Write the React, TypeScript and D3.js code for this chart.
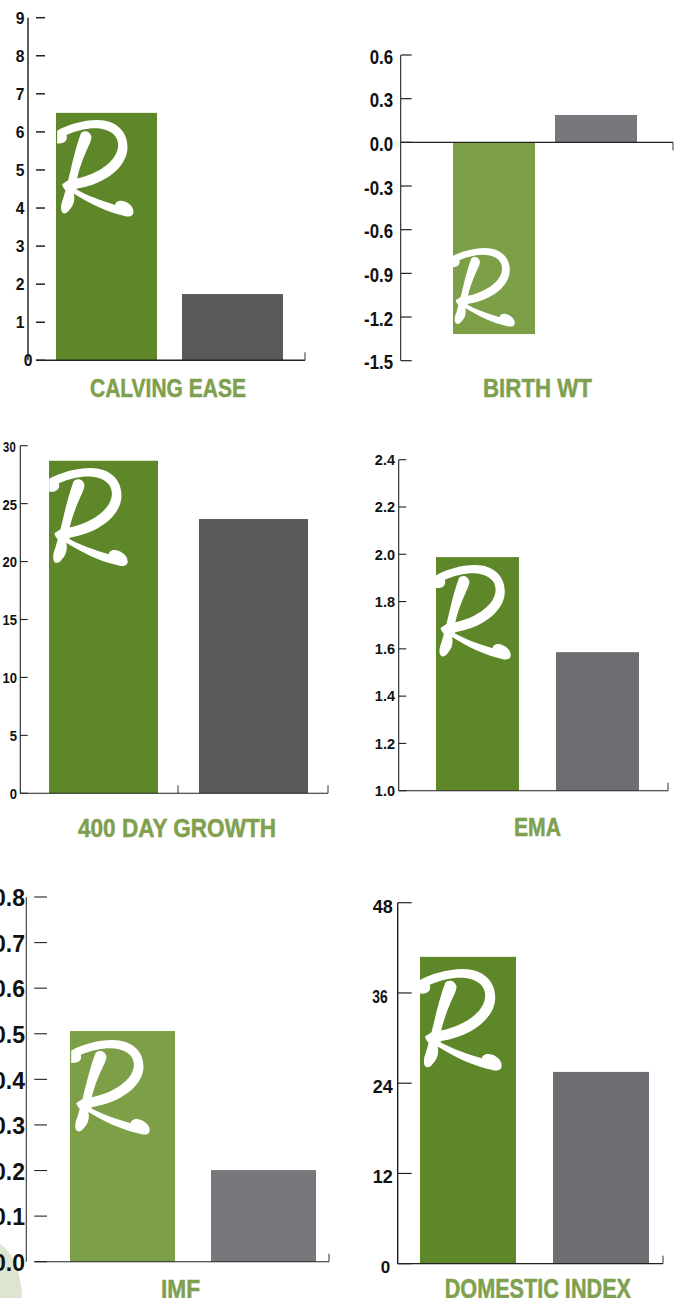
import React from "react";
import * as d3 from "d3";

// ---------- data ----------
const barCategories = ["Sire group", "Breed average"];

const calvingEaseValues = [6.5, 1.74];
const birthWtValues = [-1.317, 0.188];
const growthValues = [28.7, 23.67];
const emaValues = [1.988, 1.586];
const imfValues = [0.506, 0.201];
const domesticValues = [40.8, 25.5];

const calvingEaseTicks = [0, 1, 2, 3, 4, 5, 6, 7, 8, 9];
const birthWtTicks = [-1.5, -1.2, -0.9, -0.6, -0.3, 0, 0.3, 0.6];
const growthTicks = [0, 5, 10, 15, 20, 25, 30];
const emaTicks = [1, 1.2, 1.4, 1.6, 1.8, 2, 2.2, 2.4];
const imfTicks = [0, 0.1, 0.2, 0.3, 0.4, 0.5, 0.6, 0.7, 0.8];
const domesticTicks = [0, 12, 24, 36, 48];

// ---------- styling ----------
const SANS = "'Liberation Sans', Arial, sans-serif";
const GREEN = "#5e8729";
const GREEN_LIGHT = "#7c9f48";
const GREY_DARK = "#58595b";
const GREY_MID = "#6d6e71";
const GREY_LIGHT = "#77787b";
const LABEL = "#7fa04e";

// R brand mark, traced outline (own coordinate system, 232 x 290)
const R_MARK =
  "M2 32 C30 15 80 0 122 0 C180 0 215 35 213 85 C210 140 150 190 62 205 L60 208 C90 225 130 240 176 254 " +
  "C176 243 192 238 205 244 C222 250 232 264 231 276 C230 290 215 290 205 287 C150 275 100 250 52 220 " +
  "C56 240 52 255 38 270 C30 282 18 282 15 272 C12 262 14 250 20 235 L27 210 C22 205 18 198 17 192 " +
  "L35 180 C45 140 55 90 73 40 C80 30 100 30 105 50 C105 70 80 100 62 175 C130 160 185 120 185 75 " +
  "C185 40 150 25 115 25 C90 25 60 32 30 45 C35 60 25 72 2 70 Z";

type TickStyle = { size: number; sx?: number; dx?: number };

type Panel = {
  title: string;
  values: number[];
  ticks: number[];
  domain: [number, number];
  yRange: [number, number];
  tickFormat: string;
  barSpan: [number, number];
  barGap: number;
  colors: [string, string];
  axisX: number;
  tickX: [number, number];
  tickWidth: number;
  baseX: [number, number];
  baseTicks: number[];
  baseTickDir: number;
  baseValue: number;
  labelRight: number;
  labelDy: number;
  tickStyle: (t: number) => TickStyle;
  axisColor: string;
  axisWidth: number;
  titleX: [number, number];
  titleY: number;
  titleSize: number;
  mark: [number, number, number, number];
};

const panels: Panel[] = [
  {
    title: "CALVING EASE",
    values: calvingEaseValues,
    ticks: calvingEaseTicks,
    domain: [0, 9],
    yRange: [360.3, 17.7],
    tickFormat: "d",
    barSpan: [56, 283],
    barGap: 25,
    colors: [GREEN, GREY_DARK],
    axisX: 28,
    tickX: [36, 45],
    tickWidth: 1.5,
    baseX: [36, 305],
    baseTicks: [305],
    baseTickDir: -1,
    baseValue: 0,
    labelRight: 24.5,
    labelDy: 0,
    tickStyle: (t) => ({ size: 16.5, sx: 0.95, dx: t === 0 ? 8 : 0 }),
    axisColor: "#444",
    axisWidth: 1.7,
    titleX: [90, 246],
    titleY: 396.5,
    titleSize: 25,
    mark: [56.5, 120, 77.3, 97],
  },
  {
    title: "BIRTH WT",
    values: birthWtValues,
    ticks: birthWtTicks,
    domain: [-1.5, 0.6],
    yRange: [360.7, 55],
    tickFormat: ".1f",
    barSpan: [453, 637],
    barGap: 20,
    colors: [GREEN_LIGHT, GREY_LIGHT],
    axisX: 400.7,
    tickX: [401, 411.7],
    tickWidth: 1.2,
    baseX: [401, 673],
    baseTicks: [673],
    baseTickDir: 1,
    baseValue: 0,
    labelRight: 393,
    labelDy: 1,
    tickStyle: () => ({ size: 21, sx: 0.8 }),
    axisColor: "#222",
    axisWidth: 1.1,
    titleX: [483, 592],
    titleY: 397,
    titleSize: 25,
    mark: [451, 248, 64, 79],
  },
  {
    title: "400 DAY GROWTH",
    values: growthValues,
    ticks: growthTicks,
    domain: [0, 30],
    yRange: [793.3, 445.7],
    tickFormat: "d",
    barSpan: [49, 308],
    barGap: 41,
    colors: [GREEN, GREY_DARK],
    axisX: 20.3,
    tickX: [20.3, 27.7],
    tickWidth: 1.1,
    baseX: [20.3, 328],
    baseTicks: [178, 328],
    baseTickDir: -1,
    baseValue: 0,
    labelRight: 17,
    labelDy: 0.7,
    tickStyle: (t) => ({ size: 14.5, sx: t === 30 ? 0.78 : 0.9, dx: t === 30 ? -1.3 : 0 }),
    axisColor: "#222",
    axisWidth: 1.1,
    titleX: [78, 276],
    titleY: 837,
    titleSize: 25,
    mark: [48.5, 468, 79.5, 98.5],
  },
  {
    title: "EMA",
    values: emaValues,
    ticks: emaTicks,
    domain: [1, 2.4],
    yRange: [790.7, 459.7],
    tickFormat: ".1f",
    barSpan: [436, 639],
    barGap: 37,
    colors: [GREEN, GREY_MID],
    axisX: 398.7,
    tickX: [398.7, 406.3],
    tickWidth: 1.1,
    baseX: [398.7, 668],
    baseTicks: [668],
    baseTickDir: -1,
    baseValue: 1,
    labelRight: 395,
    labelDy: 0,
    tickStyle: () => ({ size: 14.5 }),
    axisColor: "#222",
    axisWidth: 1.1,
    titleX: [514, 561],
    titleY: 835.5,
    titleSize: 25,
    mark: [435, 565, 76, 95],
  },
  {
    title: "IMF",
    values: imfValues,
    ticks: imfTicks,
    domain: [0, 0.8],
    yRange: [1261.7, 897],
    tickFormat: ".1f",
    barSpan: [70, 316],
    barGap: 36,
    colors: [GREEN_LIGHT, GREY_LIGHT],
    axisX: 26.3,
    tickX: [34.3, 47],
    tickWidth: 1.1,
    baseX: [34.3, 329],
    baseTicks: [329],
    baseTickDir: -1,
    baseValue: 0,
    labelRight: 25,
    labelDy: 1,
    tickStyle: () => ({ size: 23 }),
    axisColor: "#333",
    axisWidth: 1.1,
    titleX: [161, 200],
    titleY: 1298,
    titleSize: 25,
    mark: [70.5, 1040, 79.5, 95],
  },
  {
    title: "DOMESTIC INDEX",
    values: domesticValues,
    ticks: domesticTicks,
    domain: [0, 48],
    yRange: [1263.7, 902.7],
    tickFormat: "d",
    barSpan: [420, 649],
    barGap: 37,
    colors: [GREEN, GREY_MID],
    axisX: 397.7,
    tickX: [397.7, 411.7],
    tickWidth: 1.2,
    baseX: [397.7, 663],
    baseTicks: [663],
    baseTickDir: -1,
    baseValue: 0,
    labelRight: 392.7,
    labelDy: 3.5,
    tickStyle: (t) =>
      t === 36
        ? { size: 18, sx: 0.77, dx: -5 }
        : t === 0
          ? { size: 17, dx: -2.5 }
          : { size: 18 },
    axisColor: "#111",
    axisWidth: 1.3,
    titleX: [444.7, 631],
    titleY: 1298,
    titleSize: 27.5,
    mark: [419, 969, 83, 102],
  },
];

function ChartPanel({ p }: { p: Panel }) {
  const y = d3.scaleLinear().domain(p.domain).range(p.yRange);
  const bw = (p.barSpan[1] - p.barSpan[0] - p.barGap) / 2;
  const x = d3
    .scaleBand<string>()
    .domain(barCategories)
    .range(p.barSpan)
    .paddingInner(p.barGap / (bw + p.barGap))
    .paddingOuter(0);
  const fmt = d3.format(p.tickFormat);
  const y0 = y(p.baseValue);

  return (
    <g>
      {barCategories.map((c, i) => {
        const v = y(p.values[i]);
        return (
          <rect
            key={c}
            x={x(c)}
            width={x.bandwidth()}
            y={Math.min(v, y0)}
            height={Math.abs(v - y0)}
            fill={p.colors[i]}
          />
        );
      })}
      <path
        d={R_MARK}
        fill="#fff"
        transform={`translate(${p.mark[0]},${p.mark[1]}) scale(${p.mark[2] / 232},${p.mark[3] / 290})`}
      />
      <line
        x1={p.axisX}
        x2={p.axisX}
        y1={p.yRange[1]}
        y2={p.yRange[0]}
        stroke={p.axisColor}
        strokeWidth={p.axisWidth}
      />
      {p.ticks.map((t) => {
        const s = p.tickStyle(t);
        return (
          <g key={t}>
            <line x1={p.tickX[0]} x2={p.tickX[1]} y1={y(t)} y2={y(t)} stroke="#222" strokeWidth={p.tickWidth} />
            <text
              transform={`translate(${p.labelRight + (s.dx ?? 0)},${y(t) + p.labelDy}) scale(${s.sx ?? 1},1)`}
              dy="0.36em"
              textAnchor="end"
              fontFamily={SANS}
              fontWeight={700}
              fontSize={s.size}
              fill="#111"
            >
              {fmt(t).replace("\u2212", "-")}
            </text>
          </g>
        );
      })}
      <line x1={p.baseX[0]} x2={p.baseX[1]} y1={y0} y2={y0} stroke="#222" strokeWidth={p.tickWidth} />
      {p.baseTicks.map((bx) => (
        <line key={bx} x1={bx} x2={bx} y1={y0} y2={y0 + p.baseTickDir * 8} stroke="#333" strokeWidth={1} />
      ))}
      <text
        x={p.titleX[0]}
        y={p.titleY}
        textLength={p.titleX[1] - p.titleX[0]}
        lengthAdjust="spacingAndGlyphs"
        fontFamily={SANS}
        fontWeight={700}
        fontSize={p.titleSize}
        fill={LABEL}
        stroke={LABEL}
        strokeWidth={0.5}
      >
        {p.title}
      </text>
    </g>
  );
}

export default function App() {
  return (
    <svg
      width={680}
      height={1298}
      viewBox="0 0 680 1298"
      style={{ position: "absolute", left: 0, top: 0, display: "block", background: "#fff" }}
    >
      <ellipse cx={-10} cy={1300} rx={32} ry={59} fill="#dde4d0" />
      {panels.map((p) => (
        <ChartPanel key={p.title} p={p} />
      ))}
    </svg>
  );
}
